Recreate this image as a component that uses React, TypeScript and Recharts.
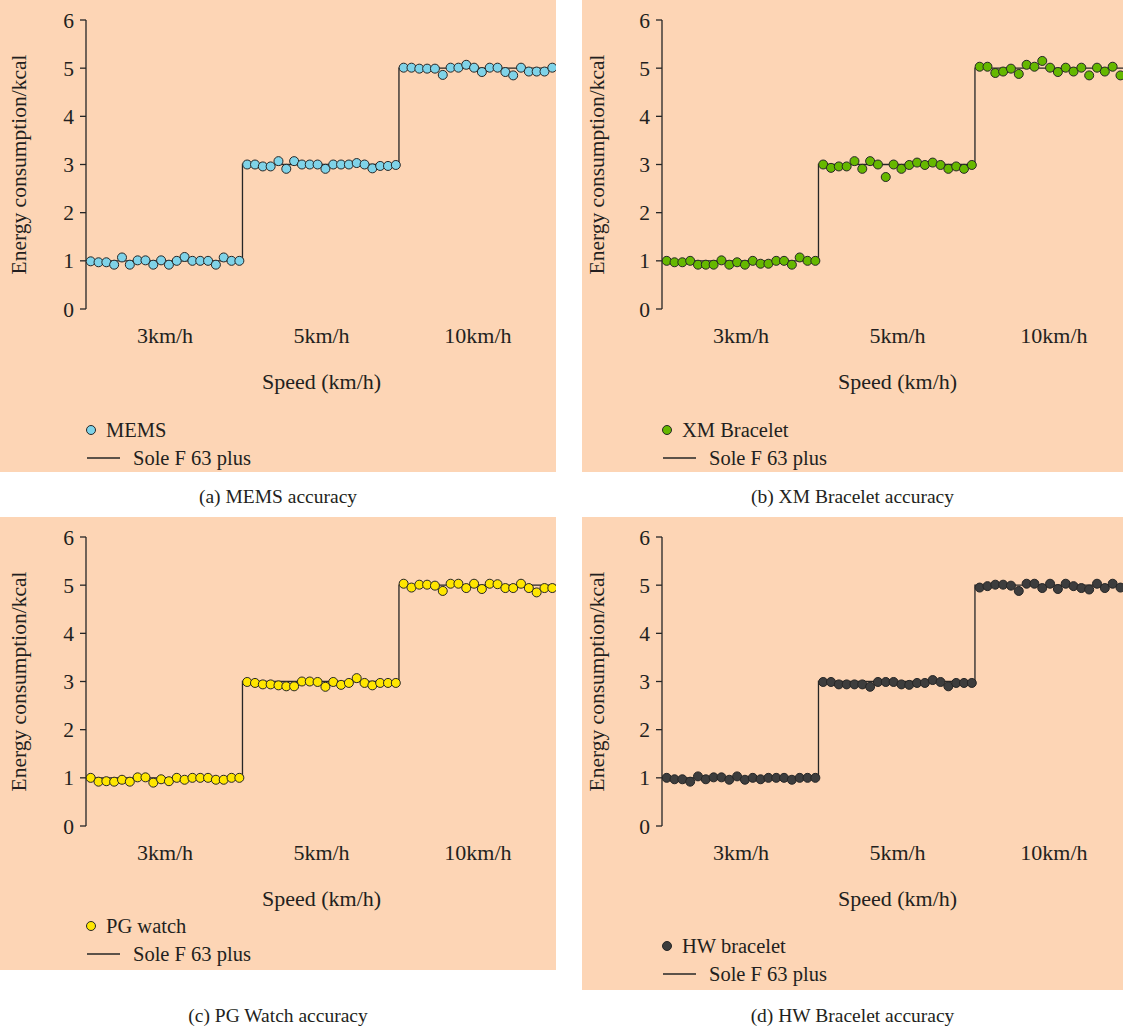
import React from 'react';
import { ComposedChart, Scatter, Line, XAxis, YAxis, Legend } from 'recharts';

const FONT = '"Liberation Serif", "Times New Roman", serif';
const TEXT = '#231f20';
const BG = '#fdd5b5';

// speeds on the x axis, 20 readings each
const categories = ['3km/h', '5km/h', '10km/h'];
const pointsPerSpeed = 20;
const yTicks = [0, 1, 2, 3, 4, 5, 6];

// Sole F 63 plus treadmill reference per speed
const referenceLevels = [1, 3, 5];

const memsValues = [
  0.99, 0.97, 0.97, 0.92, 1.07, 0.92, 1.01, 1.01, 0.92, 1.01, 0.92, 1.0, 1.08, 1.0, 1.0, 1.0, 0.92, 1.07, 1.0, 1.0,
  3.0, 3.0, 2.96, 2.96, 3.07, 2.91, 3.07, 3.0, 3.0, 3.0, 2.91, 3.0, 3.0, 3.0, 3.03, 3.0, 2.92, 2.97, 2.97, 2.99,
  5.01, 5.01, 4.99, 4.99, 4.99, 4.86, 5.01, 5.01, 5.07, 5.01, 4.92, 5.01, 5.01, 4.92, 4.85, 5.01, 4.93, 4.93, 4.93, 5.01,
];

const xmValues = [
  1.0, 0.97, 0.97, 1.0, 0.92, 0.92, 0.92, 1.01, 0.92, 0.97, 0.92, 1.0, 0.94, 0.94, 1.0, 1.0, 0.92, 1.07, 1.0, 1.0,
  3.0, 2.93, 2.96, 2.96, 3.07, 2.91, 3.07, 3.0, 2.74, 3.0, 2.91, 2.99, 3.04, 2.99, 3.04, 2.99, 2.91, 2.96, 2.91, 2.99,
  5.03, 5.03, 4.9, 4.93, 4.99, 4.88, 5.07, 5.03, 5.15, 5.01, 4.92, 5.01, 4.93, 5.01, 4.85, 5.01, 4.93, 5.03, 4.85, 5.0,
];

const pgValues = [
  1.0, 0.92, 0.93, 0.92, 0.96, 0.92, 1.01, 1.01, 0.9, 0.97, 0.93, 1.0, 0.96, 1.0, 1.0, 1.0, 0.96, 0.96, 1.0, 1.0,
  2.99, 2.97, 2.94, 2.94, 2.92, 2.9, 2.9, 3.0, 3.0, 2.99, 2.89, 2.99, 2.93, 2.97, 3.07, 2.97, 2.92, 2.97, 2.97, 2.97,
  5.03, 4.95, 5.01, 5.01, 4.99, 4.88, 5.03, 5.03, 4.94, 5.03, 4.92, 5.03, 5.02, 4.94, 4.94, 5.03, 4.94, 4.85, 4.94, 4.94,
];

const hwValues = [
  1.0, 0.97, 0.97, 0.92, 1.03, 0.97, 1.01, 1.01, 0.96, 1.03, 0.96, 1.0, 0.97, 1.0, 1.0, 1.0, 0.96, 1.0, 1.0, 1.0,
  2.99, 2.99, 2.94, 2.94, 2.94, 2.94, 2.89, 2.99, 2.99, 2.99, 2.94, 2.93, 2.97, 2.97, 3.03, 2.99, 2.9, 2.97, 2.97, 2.97,
  4.95, 4.98, 5.01, 5.01, 4.99, 4.88, 5.03, 5.03, 4.94, 5.03, 4.92, 5.03, 4.98, 4.94, 4.91, 5.03, 4.94, 5.03, 4.95, 4.95,
];

const X_DOMAIN: [number, number] = [0.4, 60.6];
const PLOT_W = 471;

const toPoints = (vals: number[]) => vals.map((y, i) => ({ x: i + 1, y }));

// step line: level changes between the last and first reading of two speeds
const stepData = [
  ...referenceLevels.map((y, i) => ({ x: i === 0 ? X_DOMAIN[0] : i * pointsPerSpeed + 0.4, y })),
  { x: X_DOMAIN[1], y: referenceLevels[referenceLevels.length - 1] },
];

const categoryTicks = categories.map((_, i) => i * pointsPerSpeed + pointsPerSpeed / 2 + 0.5);

type PanelProps = {
  left: number;
  top: number;
  width: number;
  height: number;
  plotLeft: number;
  labelX: number;
  values: number[];
  name: string;
  color: string;
  legendY: number;
  caption: string;
  captionY: number;
};

const Panel: React.FC<PanelProps> = (p) => {
  const chartW = p.plotLeft + PLOT_W;
  const data = toPoints(p.values);

  const dot = (props: any) => (
    <circle cx={props.cx} cy={props.cy} r={4.5} fill={p.color} stroke="#262626" strokeWidth={1} />
  );

  const legend = () => (
    <svg width={chartW} height={62} style={{ display: 'block', overflow: 'visible' }}>
      <circle cx={p.plotLeft + 5} cy={14} r={4.5} fill={p.color} stroke="#262626" strokeWidth={1} />
      <text x={p.plotLeft + 20} y={14} dy="0.35em" fontSize={20.5} fill={TEXT} fontFamily={FONT}>
        {p.name}
      </text>
      <line x1={p.plotLeft + 1} x2={p.plotLeft + 34} y1={42} y2={42} stroke="#262626" strokeWidth={1.3} />
      <text x={p.plotLeft + 47} y={42} dy="0.35em" fontSize={20.5} fill={TEXT} fontFamily={FONT}>
        Sole F 63 plus
      </text>
    </svg>
  );

  return (
    <>
      <div
        style={{
          position: 'absolute',
          left: p.left,
          top: p.top,
          width: p.width,
          height: p.height,
          background: BG,
          overflow: 'hidden',
        }}
      >
        <ComposedChart
          width={chartW}
          height={p.height}
          margin={{ top: 20, right: 0, left: 0, bottom: 0 }}
          style={{ fontFamily: FONT }}
        >
          <XAxis
            type="number"
            dataKey="x"
            domain={X_DOMAIN}
            allowDataOverflow
            ticks={categoryTicks}
            tickFormatter={(v: number) => categories[categoryTicks.indexOf(v)]}
            axisLine={false}
            tickLine={false}
            tickSize={0}
            tickMargin={18}
            height={p.height - 309}
            tick={{ fontSize: 22, fill: TEXT }}
            label={{ value: 'Speed (km/h)', position: 'insideTop', offset: 64, fontSize: 22, fill: TEXT }}
          />
          <YAxis
            type="number"
            dataKey="y"
            domain={[0, 6]}
            ticks={yTicks}
            width={p.plotLeft}
            axisLine={{ stroke: '#262626', strokeWidth: 1.3 }}
            tickLine={{ stroke: '#262626', strokeWidth: 1.3 }}
            tickSize={6}
            tickMargin={6}
            tick={{ fontSize: 21.5, fill: TEXT }}
            label={{
              value: 'Energy consumption/kcal',
              angle: -90,
              position: 'insideLeft',
              offset: p.labelX,
              fontSize: 21.5,
              fill: TEXT,
              style: { textAnchor: 'middle' },
            }}
          />
          <Line
            data={stepData}
            dataKey="y"
            type="stepAfter"
            stroke="#262626"
            strokeWidth={1.3}
            dot={false}
            name="Sole F 63 plus"
            isAnimationActive={false}
          />
          <Scatter data={data} dataKey="y" name={p.name} fill={p.color} shape={dot} isAnimationActive={false} />
          <Legend
            layout="horizontal"
            verticalAlign="middle"
            align="center"
            content={legend}
            wrapperStyle={{ left: 0, top: p.legendY - 14, width: chartW, height: 62 }}
          />
        </ComposedChart>
      </div>
      <div
        style={{
          position: 'absolute',
          left: p.left,
          width: p.width,
          top: p.captionY - 12,
          textAlign: 'center',
          fontFamily: FONT,
          fontSize: 19.5,
          color: TEXT,
          lineHeight: '24px',
        }}
      >
        {p.caption}
      </div>
    </>
  );
};

export default function App() {
  return (
    <div style={{ position: 'absolute', left: 0, top: 0, width: 1123, height: 1028, background: '#fff' }}>
      <Panel left={0} top={0} width={556} height={472} plotLeft={86} labelX={18} values={memsValues}
        name="MEMS" color="#7fd3e8" legendY={430} caption="(a) MEMS accuracy" captionY={497} />
      <Panel left={582} top={0} width={541} height={472} plotLeft={80} labelX={14} values={xmValues}
        name="XM Bracelet" color="#66b800" legendY={430} caption="(b) XM Bracelet accuracy" captionY={497} />
      <Panel left={0} top={517} width={556} height={453} plotLeft={86} labelX={18} values={pgValues}
        name="PG watch" color="#ffe600" legendY={409} caption="(c) PG Watch accuracy" captionY={1016} />
      <Panel left={582} top={517} width={541} height={473} plotLeft={80} labelX={14} values={hwValues}
        name="HW bracelet" color="#3d3d3d" legendY={429} caption="(d) HW Bracelet accuracy" captionY={1016} />
    </div>
  );
}
